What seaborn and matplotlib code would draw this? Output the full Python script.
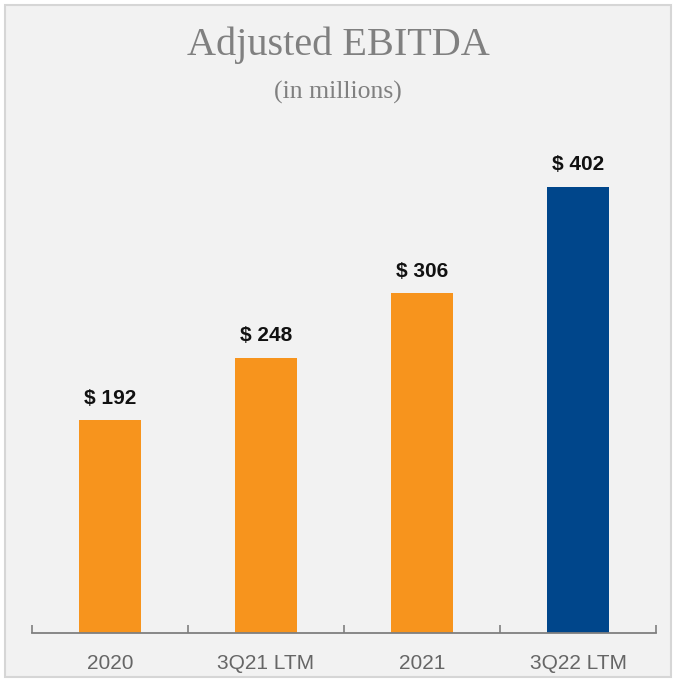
import pandas as pd
import matplotlib.pyplot as plt
import seaborn as sns
from matplotlib.patches import Rectangle

# data
periods = ['2020', '3Q21 LTM', '2021', '3Q22 LTM']
ebitda = [192, 248, 306, 402]
bar_colors = ['#F7941D', '#F7941D', '#F7941D', '#00468B']

df = pd.DataFrame({'period': periods, 'ebitda': ebitda})

sns.set_theme(style='white')
plt.rcParams['font.family'] = ['Liberation Sans', 'DejaVu Sans']

fig = plt.figure(figsize=(6.76, 6.82), dpi=100)
fig.patch.set_facecolor('white')
# light grey panel with thin border
fig.patches.append(Rectangle((5 / 676, 5 / 682), 666 / 676, 672 / 682,
                             transform=fig.transFigure, facecolor='#f2f2f2',
                             edgecolor='#d6d6d6', linewidth=1.5, zorder=-1))

ax = fig.add_axes([32 / 676, 49 / 682, 624 / 676, 533 / 682])
ax.set_facecolor('none')
ax.set_zorder(2)

sns.barplot(data=df, x='period', y='ebitda', hue='period', palette=bar_colors,
            width=0.4, legend=False, ax=ax, saturation=1, linewidth=0)

for i, v in enumerate(ebitda):
    ax.text(i, v + 11, '$ {}'.format(v), ha='center', va='bottom',
            fontsize=15, fontweight='bold', color='#111111')

ax.set_xlim(-0.5, 3.5)
ax.set_ylim(0, 480)
ax.set_xlabel('')
ax.set_ylabel('')
ax.set_yticks([])
for s in ['top', 'right', 'left']:
    ax.spines[s].set_visible(False)
ax.spines['bottom'].set_color('#7f7f7f')
ax.spines['bottom'].set_linewidth(1.3)

# ticks between categories
ax.set_xticks([-0.5, 0.5, 1.5, 2.5, 3.5], minor=True)
ax.tick_params(axis='x', which='minor', bottom=True, length=6, width=1.2,
               color='#7f7f7f', direction='in')
ax.tick_params(axis='x', which='major', bottom=False, labelsize=15,
               labelcolor='#666666', pad=9)

fig.text(0.5, 1 - 45 / 682, 'Adjusted EBITDA', ha='center', va='center',
         fontsize=29, color='#808080', family=['Liberation Serif', 'DejaVu Serif'])
fig.text(0.5, 1 - 92 / 682, '(in millions)', ha='center', va='center',
         fontsize=18.5, color='#808080', family=['Liberation Serif', 'DejaVu Serif'])

plt.savefig('out.png', dpi=100)
